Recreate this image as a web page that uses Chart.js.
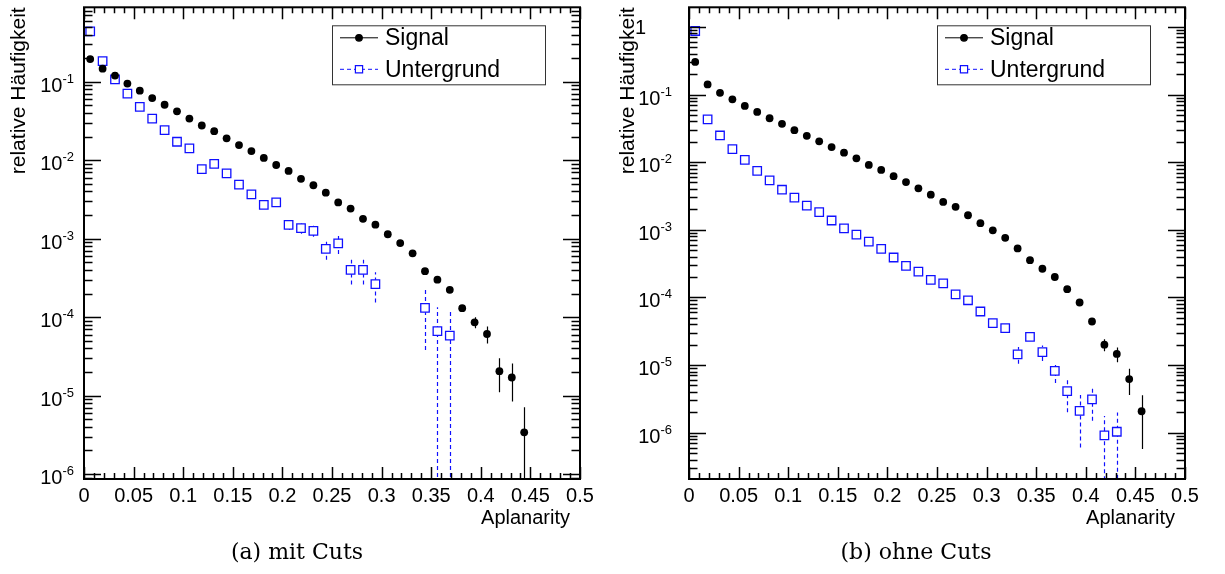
<!DOCTYPE html>
<html>
<head>
<meta charset="utf-8">
<script src="https://cdn.jsdelivr.net/npm/chart.js@4.4.1/dist/chart.umd.min.js"></script>
<style>
  body { margin: 0; background: #fff; width: 1225px; height: 574px; position: relative; overflow: hidden; }
  canvas { position: absolute; top: 0; }
  #chartA { left: 0; }
  #chartB { left: 612px; }
  .caption { position: absolute; top: 541px; width: 300px; text-align: center; line-height: 22px;
             font-family: "DejaVu Serif", serif; font-size: 22px; color: #000; }
</style>
</head>
<body>
<canvas id="chartA" width="612" height="574"></canvas>
<canvas id="chartB" width="613" height="574"></canvas>
<div class="caption" style="left:147px">(a) mit Cuts</div>
<div class="caption" style="left:766px">(b) ohne Cuts</div>
<script>
// bin centres (40 bins of width 0.0125 between 0 and 0.5)
const aplanarity = [0.00625, 0.01875, 0.03125, 0.04375, 0.05625, 0.06875, 0.08125, 0.09375, 0.10625, 0.11875,
                    0.13125, 0.14375, 0.15625, 0.16875, 0.18125, 0.19375, 0.20625, 0.21875, 0.23125, 0.24375,
                    0.25625, 0.26875, 0.28125, 0.29375, 0.30625, 0.31875, 0.33125, 0.34375, 0.35625, 0.36875,
                    0.38125, 0.39375, 0.40625, 0.41875, 0.43125, 0.44375, 0.45625, 0.46875, 0.48125, 0.49375];

const xTickValues = [0, 0.05, 0.1, 0.15, 0.2, 0.25, 0.3, 0.35, 0.4, 0.45, 0.5];
const xTickLabels = ["0", "0.05", "0.1", "0.15", "0.2", "0.25", "0.3", "0.35", "0.4", "0.45", "0.5"];

// (a) mit Cuts
const signalA = [0.195, 0.147, 0.12, 0.095, 0.077, 0.062, 0.051, 0.042, 0.034, 0.0277,
                 0.0235, 0.019, 0.0156, 0.0131, 0.0107, 0.0087, 0.0073, 0.0058, 0.0048, 0.00386,
                 0.0029, 0.00242, 0.00179, 0.00151, 0.00114, 0.00088, 0.00065, 0.000385, 0.0003, 0.000223,
                 0.00013, 8.6e-5, 6.1e-5, 2.05e-5, 1.7e-5, 3.4e-6, null, null, null, null];
const signalErrA = [0, 0, 0, 0, 0, 0, 0, 0, 0, 0,
                    0, 0, 0, 0, 0, 0, 0, 0, 0, 0,
                    0, 0, 0, 0, 0, 0, 0, 0, 0, 0,
                    1e-5, 1.4e-5, 1.5e-5, 9.5e-6, 8.6e-6, 3.7e-6, 0, 0, 0, 0];
const backgroundA = [0.44, 0.183, 0.107, 0.0705, 0.048, 0.034, 0.0242, 0.0172, 0.0142, 0.0077,
                     0.009, 0.0068, 0.0049, 0.00368, 0.0027, 0.0029, 0.0015, 0.00136, 0.00126, 0.00074,
                     0.00087, 0.0004, 0.0004, 0.000264, null, null, null, 0.000131, 6.65e-5, 5.8e-5,
                     null, null, null, null, null, null, null, null, null, null];
const backgroundErrA = [0, 0, 0, 0, 0, 0, 0, 0, 0, 0,
                        0, 0, 0, 0, 0, 0, 2e-4, 2e-4, 2e-4, 2e-4,
                        2.3e-4, 1.4e-4, 1.4e-4, 1.1e-4, 0, 0, 0, 9.3e-5, 6.7e-5, 6.1e-5,
                        0, 0, 0, 0, 0, 0, 0, 0, 0, 0];
const decadesA = [-6, -5, -4, -3, -2, -1];

// (b) ohne Cuts
const signalB = [0.303, 0.141, 0.106, 0.0848, 0.0678, 0.0553, 0.0446, 0.0369, 0.0297, 0.0245,
                 0.0203, 0.0167, 0.0138, 0.0114, 0.0091, 0.00768, 0.0062, 0.00507, 0.0041, 0.0033,
                 0.00258, 0.00218, 0.00164, 0.00125, 0.00098, 0.00076, 0.00053, 0.000355, 0.000265, 0.0002,
                 0.000132, 8.4e-5, 4.4e-5, 2.0e-5, 1.46e-5, 6.2e-6, 2.07e-6, null, null, null];
const signalErrB = [0, 0, 0, 0, 0, 0, 0, 0, 0, 0,
                    0, 0, 0, 0, 0, 0, 0, 0, 0, 0,
                    0, 0, 0, 0, 0, 0, 0, 0, 0, 0,
                    0, 0, 0, 4e-6, 3.6e-6, 2.6e-6, 1.5e-6, 0, 0, 0];
const backgroundB = [0.87, 0.043, 0.0248, 0.0156, 0.0108, 0.00743, 0.00537, 0.00391, 0.00298, 0.00227,
                     0.00182, 0.00137, 0.00105, 0.000845, 0.000667, 0.00052, 0.000389, 0.000293, 0.00024, 0.000182,
                     0.000161, 0.000111, 9.06e-5, 6.18e-5, 4.16e-5, 3.5e-5, 1.44e-5, 2.6e-5, 1.55e-5, 8.2e-6,
                     4.1e-6, 2.1e-6, 3.1e-6, 9.1e-7, 1.03e-6, null, null, null, null, null];
const backgroundErrB = [0, 0, 0, 0, 0, 0, 0, 0, 0, 0,
                        0, 0, 0, 0, 0, 0, 0, 0, 0, 0,
                        0, 0, 0, 0, 0, 0, 4e-6, 3e-6, 4e-6, 2.8e-6,
                        2.1e-6, 1.5e-6, 1.6e-6, 8.5e-7, 9.5e-7, 0, 0, 0, 0, 0];
const decadesB = [-6, -5, -4, -3, -2, -1, 0];

const FONT = '"Liberation Sans", Arial, sans-serif';

function points(values) {
    return values.map((v, i) => ({ x: aplanarity[i], y: v }));
}

// ROOT-like frame: inward ticks on all sides, error bars, y labels 10^n, legend box
const rootFrame = {
    id: "rootFrame",
    beforeDatasetsDraw(chart) {
        const { ctx, chartArea: a, scales: { x, y } } = chart;
        ctx.save();
        ctx.beginPath();
        ctx.rect(a.left, a.top, a.right - a.left, a.bottom - a.top);
        ctx.clip();
        chart.data.datasets.forEach(ds => {
            ctx.strokeStyle = ds.borderColor;
            ctx.lineWidth = 1.2;
            ctx.setLineDash(ds.errDash);
            ds.data.forEach((p, i) => {
                const e = ds.errors[i];
                if (p.y == null || !e) return;
                const px = Math.round(x.getPixelForValue(p.x)) + 0.5;
                const lo = p.y - e > 0 ? y.getPixelForValue(p.y - e) : a.bottom + 5;
                const hi = y.getPixelForValue(p.y + e);
                ctx.beginPath();
                ctx.moveTo(px, lo);
                ctx.lineTo(px, hi);
                ctx.stroke();
            });
        });
        ctx.restore();
    },
    afterDraw(chart, args, opts) {
        const { ctx, chartArea: a, scales: { x, y } } = chart;
        ctx.save();
        ctx.strokeStyle = "#000";
        ctx.lineWidth = 1.5;

        // x ticks every 0.01, long ones every 0.05
        for (let k = 0; k <= 50; k++) {
            const px = Math.round(x.getPixelForValue(k / 100)) + 0.5;
            const len = k % 5 === 0 ? 12 : 6;
            ctx.beginPath();
            ctx.moveTo(px, a.bottom); ctx.lineTo(px, a.bottom - len);
            ctx.moveTo(px, a.top); ctx.lineTo(px, a.top + len);
            ctx.stroke();
        }
        // log y ticks
        const d0 = Math.floor(Math.log10(y.min)), d1 = Math.ceil(Math.log10(y.max));
        for (let d = d0; d <= d1; d++) {
            for (let m = 1; m <= 9; m++) {
                const v = m * Math.pow(10, d);
                if (v < y.min || v > y.max) continue;
                const py = Math.round(y.getPixelForValue(v)) + 0.5;
                const len = m === 1 ? 17 : 8.5;
                ctx.beginPath();
                ctx.moveTo(a.left, py); ctx.lineTo(a.left + len, py);
                ctx.moveTo(a.right, py); ctx.lineTo(a.right - len, py);
                ctx.stroke();
            }
        }
        ctx.lineWidth = 2;
        ctx.strokeRect(a.left, a.top, a.right - a.left, a.bottom - a.top);

        // y tick labels
        ctx.fillStyle = "#000";
        ctx.textBaseline = "alphabetic";
        const right = a.left - opts.labelGap;
        opts.decades.forEach(d => {
            const py = y.getPixelForValue(Math.pow(10, d));
            if (d === 0) {
                ctx.font = "20px " + FONT;
                ctx.textAlign = "right";
                ctx.fillText("1", a.left - 43, py + 7);
                return;
            }
            const exp = String(d);
            ctx.font = "13px " + FONT;
            const wExp = ctx.measureText(exp).width;
            ctx.textAlign = "left";
            ctx.fillText(exp, right - wExp, py + 1);
            ctx.font = "20px " + FONT;
            ctx.textAlign = "right";
            ctx.fillText("10", right - wExp, py + 10);
        });

        // x axis title
        ctx.font = "20px " + FONT;
        ctx.textAlign = "right";
        ctx.fillText("Aplanarity", a.right - 10, a.bottom + 45);

        // legend
        const bx = a.right - 248, by = a.top + 18, bw = 213, bh = 59;
        ctx.fillStyle = "#fff";
        ctx.fillRect(bx, by, bw, bh);
        ctx.strokeStyle = "#333";
        ctx.lineWidth = 1;
        ctx.strokeRect(bx + 0.5, by + 0.5, bw, bh);
        chart.data.datasets.forEach((ds, i) => {
            const ly = by + 12.5 + i * 31.5;
            ctx.strokeStyle = ds.borderColor;
            ctx.lineWidth = 1;
            ctx.setLineDash(ds.errDash);
            ctx.beginPath();
            ctx.moveTo(bx + 8, ly); ctx.lineTo(bx + 46, ly);
            ctx.stroke();
            ctx.setLineDash([]);
            ctx.fillStyle = ds.backgroundColor;
            ctx.lineWidth = 1.2;
            Chart.helpers.drawPoint(ctx, {
                pointStyle: ds.pointStyle, radius: ds.pointRadius * 0.85, rotation: 0, borderWidth: 1.2
            }, bx + 27, ly);
            ctx.fillStyle = "#000";
            ctx.font = "23px " + FONT;
            ctx.textAlign = "left";
            ctx.textBaseline = "middle";
            ctx.fillText(ds.label, bx + 53, ly + 1);
            ctx.textBaseline = "alphabetic";
        });
        ctx.restore();
    }
};

function makeChart(id, signal, signalErr, background, backgroundErr, yMin, yMax, decades, yAxisWidth, padRight, labelGap, titlePad) {
    return new Chart(document.getElementById(id), {
        type: "scatter",
        data: {
            datasets: [{
                label: "Signal",
                data: points(signal),
                errors: signalErr,
                errDash: [],
                pointStyle: "circle",
                pointRadius: 3.9,
                borderWidth: 0,
                borderColor: "#000",
                backgroundColor: "#000"
            }, {
                label: "Untergrund",
                data: points(background),
                errors: backgroundErr,
                errDash: [4, 3],
                pointStyle: "rect",
                pointRadius: 6,
                borderWidth: 1.3,
                borderColor: "#1010ff",
                backgroundColor: "#fff"
            }]
        },
        options: {
            responsive: false,
            animation: false,
            events: [],
            layout: { padding: { left: 0, right: padRight, top: 4, bottom: 35 } },
            plugins: {
                legend: { display: false },
                tooltip: { enabled: false },
                rootFrame: { decades: decades, labelGap: labelGap }
            },
            scales: {
                x: {
                    type: "linear",
                    min: 0,
                    max: 0.5,
                    afterBuildTicks: s => { s.ticks = xTickValues.map(v => ({ value: v })); },
                    afterFit: s => { s.height = 60; },
                    ticks: {
                        callback: (v, i) => xTickLabels[i],
                        font: { family: FONT, size: 20 },
                        color: "#000",
                        padding: 5,
                        maxRotation: 0,
                        autoSkip: false
                    },
                    grid: { display: false, drawTicks: false },
                    border: { display: false }
                },
                y: {
                    type: "logarithmic",
                    min: yMin,
                    max: yMax,
                    afterFit: s => { s.width = yAxisWidth; },
                    ticks: { display: false },
                    grid: { display: false, drawTicks: false },
                    border: { display: false },
                    title: {
                        display: true,
                        text: "relative Häufigkeit",
                        align: "end",
                        color: "#000",
                        font: { family: FONT, size: 21 },
                        padding: { top: titlePad, bottom: 0 }
                    }
                }
            }
        },
        plugins: [rootFrame]
    });
}

makeChart("chartA", signalA, signalErrA, backgroundA, backgroundErrA, 8.65e-7, 0.89, decadesA, 84, 32, 10, 7);
makeChart("chartB", signalB, signalErrB, backgroundB, backgroundErrB, 2.06e-7, 1.95, decadesB, 77, 40, 17, 4);
</script>
</body>
</html>
